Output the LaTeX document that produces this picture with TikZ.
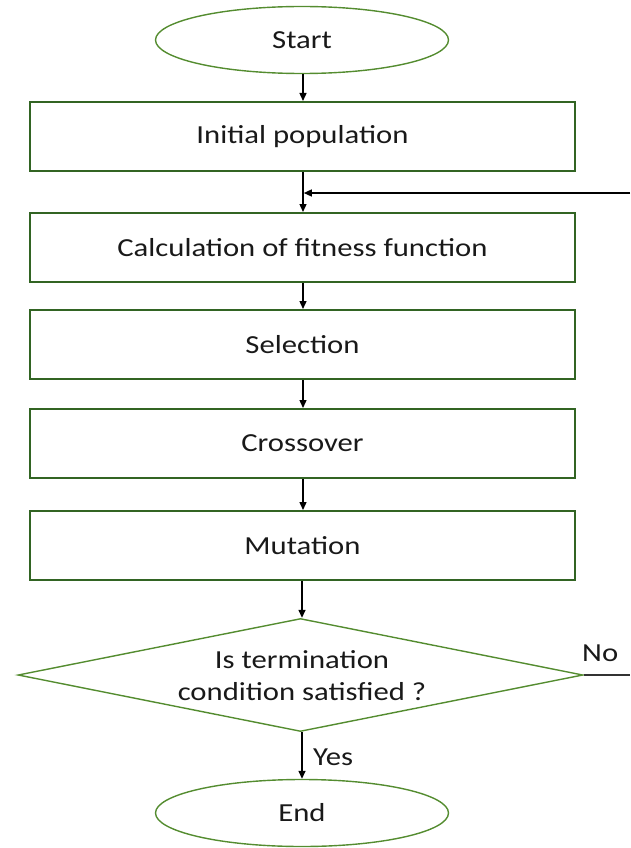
\documentclass[tikz,border=0pt]{standalone}
\usepackage{fontspec}
\setmainfont{Carlito}
\usetikzlibrary{shapes.geometric,arrows.meta}
\definecolor{boxgreen}{RGB}{50,100,35}
\definecolor{lightgreen}{RGB}{84,140,48}
\definecolor{txt}{RGB}{25,25,25}
\newcommand{\wide}[1]{\scalebox{1.18}[1]{#1}}
\tikzset{
  stagebox/.style={draw=boxgreen, line width=2pt, rectangle, minimum width=545pt, minimum height=69pt, inner sep=0pt, text=txt, font=\fontsize{26}{30}\selectfont},
  terminal/.style={draw=lightgreen, line width=1.4pt, ellipse, minimum width=293pt, minimum height=67pt, inner sep=0pt, text=txt, font=\fontsize{26}{30}\selectfont},
  decision/.style={draw=lightgreen, line width=1.4pt, diamond, minimum width=565pt, minimum height=113pt, inner sep=0pt},
  lbl/.style={text=txt, font=\fontsize{26}{30}\selectfont, inner sep=0pt},
  flow/.style={draw=black, line width=1.4pt, -{Triangle[length=8pt,width=7pt]}},
  plainline/.style={draw=black!80, line width=1.8pt}
}
\begin{document}
\begin{tikzpicture}[x=1pt,y=-1pt]
\useasboundingbox (0,0) rectangle (630,848);
\node[terminal] (start) at (302,40) {\wide{Start}};
\node[stagebox] (init) at (302.5,136.5) {\wide{Initial population}};
\node[stagebox] (calc) at (302.5,247.5) {\wide{Calculation of fitness function}};
\node[stagebox] (sel) at (302.5,344.5) {\wide{Selection}};
\node[stagebox] (cross) at (302.5,443.5) {\wide{Crossover}};
\node[stagebox] (mut) at (302.5,545.5) {\wide{Mutation}};
\node[decision] (dia) at (300.5,675) {};
\node[lbl, align=center] (diatext) at (302,676) {\wide{Is termination}\\[2pt]\wide{condition satisfied ?}};
\node[terminal] (end) at (302,813) {\wide{End}};

\coordinate (fbR) at (630,193);
\coordinate (noR) at (630,675);

\draw[flow] (start.south -| 303,0) -- (init.north -| 303,0);
\draw[flow] (init.south -| 303,0) -- (calc.north -| 303,0);
\draw[flow] (fbR) -- (303.8,193);
\draw[flow] (calc.south -| 303,0) -- (sel.north -| 303,0);
\draw[flow] (sel.south -| 303,0) -- (cross.north -| 303,0);
\draw[flow] (cross.south -| 303,0) -- (mut.north -| 303,0);
\draw[flow] (mut.south -| 302,0) -- (dia.north -| 302,0);
\draw[flow] (dia.south -| 302,0) -- (end.north -| 302,0);
\draw[plainline] (dia.east) -- (noR);

\node[lbl, anchor=base west] (yes) at (313,765) {\wide{Yes}};
\node[lbl, anchor=base west] (no) at (582,661) {\wide{No}};
\end{tikzpicture}
\end{document}
